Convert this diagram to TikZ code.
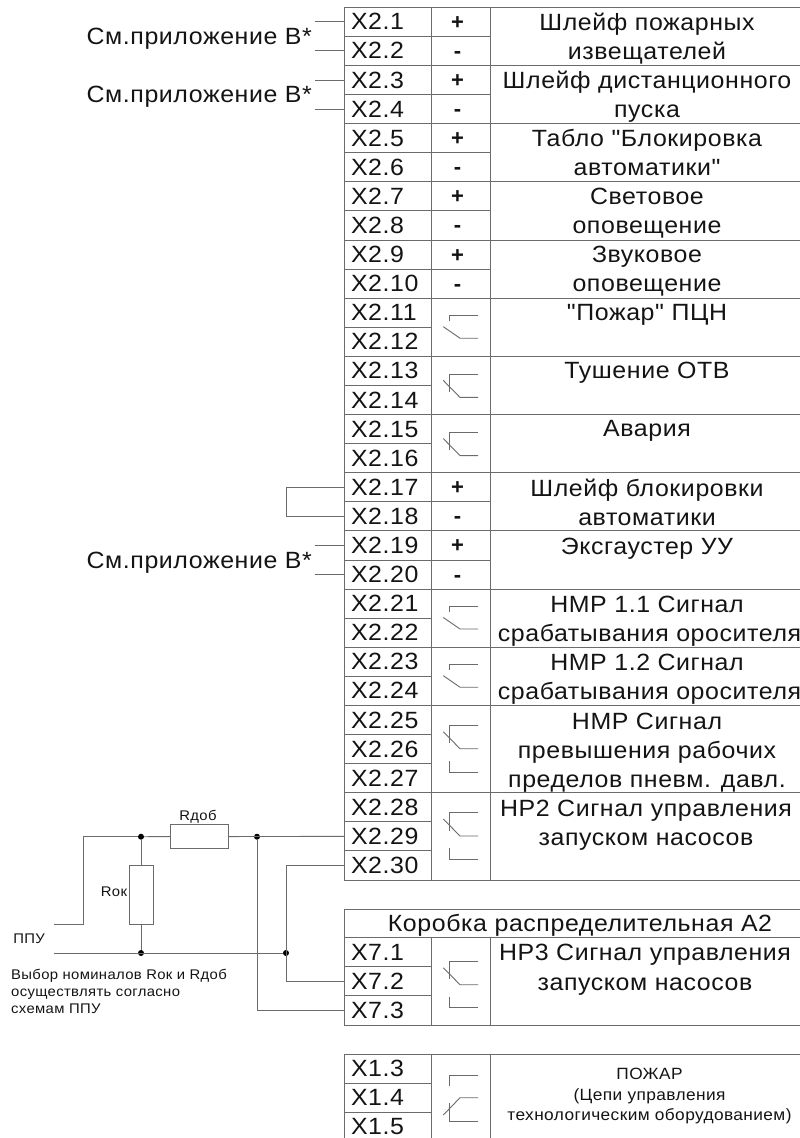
\documentclass[tikz,border=0pt]{standalone}
\usepackage{fontspec}
\newfontfamily\ar{Liberation Sans}[LetterSpace=2.5,FakeStretch=1.06]
\newfontfamily\arp{Liberation Sans}
\usetikzlibrary{calc}
\definecolor{ln}{gray}{0.42}
\definecolor{tx}{gray}{0.08}
\newcommand{\fs}[1]{\ar\fontsize{#1}{#1}\selectfont}
\tikzset{
 x=1pt,y=-1pt,
 wire/.style={draw=ln,line width=0.9pt},
 term/.style={draw=ln,line width=0.9pt,anchor=north west,minimum width=87pt,minimum height=29.09pt,inner sep=0pt,outer sep=0pt,text width=74pt,text height=16pt,text depth=0pt,align=left,text=tx,font=\fs{23.5}},
 sym/.style={draw=ln,line width=0.9pt,anchor=north west,minimum width=59pt,inner sep=0pt,outer sep=0pt},
 desc/.style={draw=ln,line width=0.9pt,anchor=north west,minimum width=312.5pt,inner sep=0pt,outer sep=0pt},
 pm/.style={anchor=base,inner sep=0pt,text=tx,font=\arp\fontsize{22}{22}\selectfont\bfseries},
 lab/.style={anchor=base,inner sep=0pt,text=tx,font=\fs{23.5}},
 smlab/.style={anchor=base,inner sep=0pt,text=tx,font=\fs{16.3}},
 tiny/.style={anchor=base west,inner sep=0pt,text=tx,font=\fs{14}},
 res/.style={draw=ln,line width=0.9pt,fill=white,inner sep=0pt,outer sep=0pt},
 dot/.style={circle,fill=black,inner sep=0pt,minimum size=6pt},
 side/.style={anchor=base east,inner sep=0pt,text=tx,font=\fs{23.5}},
}
% contact parts; #1 = group-top y
\newcommand{\NOc}[3]{\draw[wire] (478,#1+#2) -- (449,#1+#2) -- (449,#1+#2+6);
  \draw[wire] (443.3,#1+#3-11.5) -- (460,#1+#3) -- (478,#1+#3);}
\newcommand{\NCc}[3]{\draw[wire] (478,#1+#2) -- (449,#1+#2) -- (449,#1+#2+18);
  \draw[wire] (443.3,#1+#3-17) -- (460,#1+#3) -- (478,#1+#3);}
\newcommand{\LOWc}[3]{\draw[wire] (449,#1+#2) -- (449,#1+#3) -- (478,#1+#3);}
\begin{document}
\begin{tikzpicture}
\useasboundingbox (0,0) rectangle (800,1138);
\fill[white] (0,0) rectangle (800,1138);
\begin{scope}
\clip (0,0) rectangle (800,1138);
% terminals
\foreach \n in {1,...,30}
  \node[term] (x\n) at (344.5,{7.3+(\n-1)*29.09}) {X2.\n};
% +/- cells
\foreach \n/\s in {1/+,2/-,3/+,4/-,5/+,6/-,7/+,8/-,9/+,10/-,17/+,18/-,19/+,20/-}{
  \node[sym,minimum height=29.09pt] (s\n) at (431.5,{7.3+(\n-1)*29.09}) {};
  \node[pm] (m\n) at (457.5,{7.3+(\n-1)*29.09+22}) {\s};
}
% contact cells
\foreach \n/\c in {11/2,13/2,15/2,21/2,23/2,25/3,28/3}
  \node[sym,minimum height=\c*29.09pt] (s\n) at (431.5,{7.3+(\n-1)*29.09}) {};
% description cells
\foreach \n/\c in {1/2,3/2,5/2,7/2,9/2,11/2,13/2,15/2,17/2,19/2,21/2,23/2,25/3,28/3}
  \node[desc,minimum height=\c*29.09pt] (d\n) at (490.5,{7.3+(\n-1)*29.09}) {};
% description texts
\node[lab] (l1) at (647,30.5) {Шлейф пожарных};
\node[lab] (l2) at (647,59.5) {извещателей};
\node[lab] (l3) at (647,88.3) {Шлейф дистанционного};
\node[lab] (l4) at (647,117) {пуска};
\node[lab] (l5) at (647,146.5) {Табло "Блокировка};
\node[lab] (l6) at (647,175) {автоматики"};
\node[lab] (l7) at (647,204) {Световое};
\node[lab] (l8) at (647,233) {оповещение};
\node[lab] (l9) at (647,262) {Звуковое};
\node[lab] (l10) at (647,291) {оповещение};
\node[lab] (l11) at (647,320) {"Пожар" ПЦН};
\node[lab] (l13) at (647,378) {Тушение ОТВ};
\node[lab] (l15) at (647,436) {Авария};
\node[lab] (l17) at (647,496) {Шлейф блокировки};
\node[lab] (l18) at (647,525) {автоматики};
\node[lab] (l19) at (647,554) {Эксгаустер УУ};
\node[lab] (l21) at (647,612.7) {НМР 1.1 Сигнал};
\node[lab] (l22) at (649.5,641) {срабатывания оросителя};
\node[lab] (l23) at (647,670) {НМР 1.2 Сигнал};
\node[lab] (l24) at (649.5,699) {срабатывания оросителя};
\node[lab] (l25) at (647,729) {НМР Сигнал};
\node[lab] (l26) at (647,758) {превышения рабочих};
\node[lab] (l27) at (647,787) {пределов пневм. давл.};
\node[lab] (l28) at (646,816) {НР2 Сигнал управления};
\node[lab] (l29) at (646,845) {запуском насосов};
% junction box
\node[draw=ln,line width=0.9pt,anchor=north west,minimum width=458.5pt,minimum height=28.4pt,inner sep=0pt,outer sep=0pt] (hdr) at (344.5,909.3) {};
\node[lab] (hdrt) at (580,931.7) {Коробка распределительная А2};
\foreach \n/\i in {1/0,2/1,3/2}
  \node[term] (y\n) at (344.5,{937.7+\i*29.09}) {X7.\n};
\node[sym,minimum height=87.27pt] (sy) at (431.5,937.7) {};
\node[desc,minimum height=87.27pt] (dy) at (490.5,937.7) {};
\node[lab] (ly1) at (645,960) {НР3 Сигнал управления};
\node[lab] (ly2) at (645,990) {запуском насосов};
% X1 block
\foreach \n/\i in {3/0,4/1,5/2}
  \node[term] (z\n) at (344.5,{1054+\i*29.09}) {X1.\n};
\node[sym,minimum height=87.27pt] (sz) at (431.5,1054) {};
\node[desc,minimum height=87.27pt] (dz) at (490.5,1054) {};
\node[smlab] (lz1) at (649.5,1079.3) {ПОЖАР};
\node[smlab] (lz2) at (649.5,1100.5) {(Цепи управления};
\node[smlab] (lz3) at (649.5,1120) {технологическим оборудованием)};
% contacts
\NOc{298.2}{16.8}{40}
\NCc{356.4}{18}{41}
\NCc{414.6}{17.5}{41}
\NOc{589}{17}{40}
\NOc{647.2}{17}{40}
\NCc{705.4}{20}{43.3}\LOWc{705.4}{55.7}{67}
\NCc{792.7}{20}{43.3}\LOWc{792.7}{55.7}{66.7}
\NCc{937.7}{23.3}{47}\LOWc{937.7}{59}{70}
\draw[wire] (478,1075) -- (449,1075) -- (449,1086);
\draw[wire] (443.3,1115) -- (460,1097.7) -- (478,1097.7);
\draw[wire] (449,1102.7) -- (449,1121) -- (478,1121);
% side stubs
\foreach \n in {1,2,3,4,19,20}{
  \coordinate (f\n) at ($(x\n.west)+(-29.5,0)$);
  \draw[wire] (f\n) -- (x\n.west);
}
\node[side] (c1) at (312,44.5) {См.приложение В*};
\node[side] (c2) at (312,102) {См.приложение В*};
\node[side] (c3) at (312,568) {См.приложение В*};
\draw[wire] (x17.west) -- (286.7,0 |- x17.west) -- (286.7,0 |- x18.west) -- (x18.west);
% circuit
\node[dot] (j1) at (141,836.7) {};
\node[dot] (j2) at (257,836.7) {};
\node[dot] (j3) at (141,953) {};
\node[dot] (j4) at (286,953) {};
\coordinate (p1) at (54,924);
\coordinate (p2) at (54,953);
\draw[wire] (p1) -- (83.3,924) -- (83.3,836.7) -- (j1);
\draw[wire] (j1) -- (x29.west);
\draw[wire] (j1) -- (j3);
\draw[wire] (p2) -- (j4);
\draw[wire] (j2) -- (257,0 |- y3.west) -- (y3.west);
\draw[wire] (x30.west) -- (286,0 |- x30.west) -- (286,0 |- y2.west) -- (y2.west);
\node[res,minimum width=58.7pt,minimum height=23.6pt] (rd) at (199.4,836.5) {};
\node[res,minimum width=23.7pt,minimum height=58.7pt] (rk) at (141.2,894.6) {};
\node[anchor=base,inner sep=0pt,text=tx,font=\fs{14}] (rdt) at (198,820.7) {Rдоб};
\node[anchor=base,inner sep=0pt,text=tx,font=\fs{14}] (rkt) at (114,896.7) {Rок};
\node[anchor=base,inner sep=0pt,text=tx,font=\fs{14}] (ppu) at (29,943.3) {ППУ};
\node[tiny] (n1) at (11,979.3) {Выбор номиналов Rок и Rдоб};
\node[tiny] (n2) at (11,996) {осуществлять согласно};
\node[tiny] (n3) at (11,1013) {схемам ППУ};
\end{scope}
\end{tikzpicture}
\end{document}
